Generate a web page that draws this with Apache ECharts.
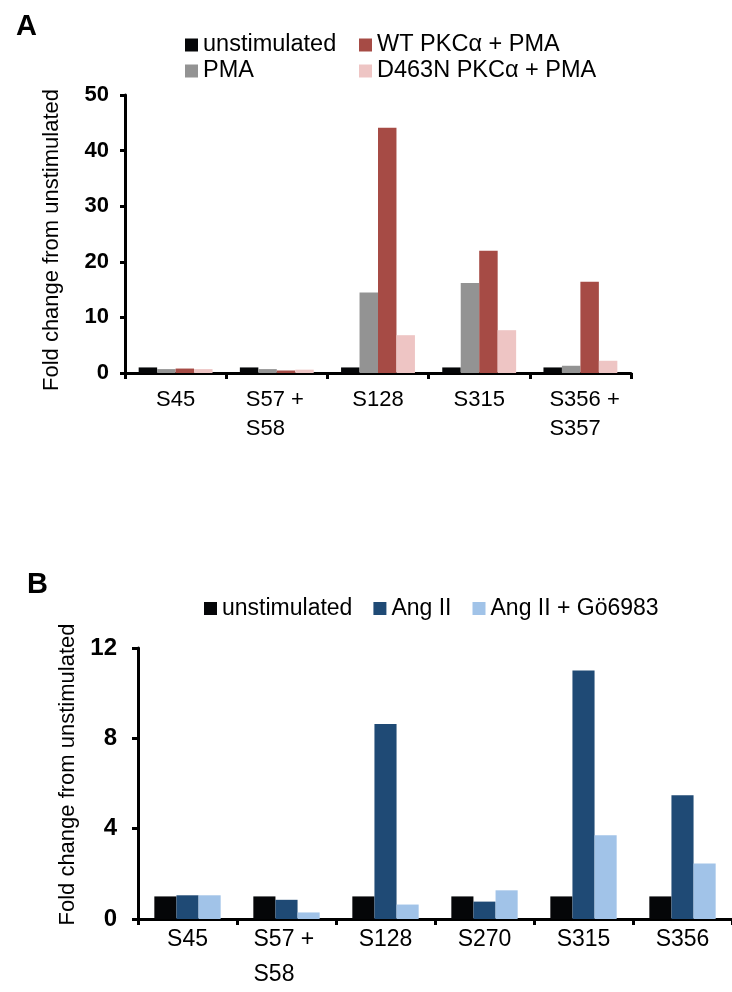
<!DOCTYPE html>
<html>
<head>
<meta charset="utf-8">
<script src="https://cdn.jsdelivr.net/npm/echarts@6/dist/echarts.min.js"></script>
<style>
html,body{margin:0;padding:0;background:#fff;}
#c{width:732px;height:992px;}
</style>
</head>
<body>
<div id="c"></div>
<script>
// ---- Panel A data ----
var catsA = ['S45', 'S57 +\nS58', 'S128', 'S315', 'S356 +\nS357'];
var namesA = ['unstimulated', 'PMA', 'WT PKC\u03b1 + PMA', 'D463N PKC\u03b1 + PMA'];
var unstimA = [1.0, 1.0, 1.0, 1.0, 1.0];
var pmaA = [0.7, 0.7, 14.5, 16.2, 1.3];
var wtA = [0.8, 0.45, 44.1, 22.0, 16.4];
var d463nA = [0.7, 0.6, 6.8, 7.7, 2.2];
var ticksA = [0, 10, 20, 30, 40, 50];

// ---- Panel B data ----
var catsB = ['S45', 'S57 +\nS58', 'S128', 'S270', 'S315', 'S356'];
var namesB = ['unstimulated', 'Ang II', 'Ang II + G\u00f66983'];
var unstimB = [1.0, 1.0, 1.0, 1.0, 1.0, 1.0];
var angB = [1.05, 0.85, 8.63, 0.77, 11.0, 5.48];
var goB = [1.05, 0.29, 0.64, 1.27, 3.71, 2.46];
var ticksB = [0, 4, 8, 12];

var colorsA = ['#050608', '#939393', '#a64b45', '#eec5c4'];
var colorsB = ['#050608', '#1f4a75', '#a1c3e8'];

var FONT = '"Liberation Sans", Arial, Helvetica, sans-serif';

function catFormatter() {
  return function (v) {
    var lines = v.split('\n');
    if (lines.length > 1) {
      return lines.map(function (l) { return '{l|' + l + '}'; }).join('\n');
    }
    return v;
  };
}

var chart = echarts.init(document.getElementById('c'), null, {renderer: 'canvas'});

function legendItems(names, colors) {
  return names.map(function (n, i) {
    return {name: n, icon: 'rect', itemStyle: {color: colors[i]}};
  });
}

var axisLineStyle = {color: '#000', width: 3};

var option = {
  backgroundColor: '#fff',
  animation: false,
  textStyle: {fontFamily: FONT},
  title: [
    {text: 'A', left: 11, top: 7, textStyle: {fontFamily: FONT, fontSize: 29, fontWeight: 'bold', color: '#000'}},
    {text: 'B', left: 22, top: 565, textStyle: {fontFamily: FONT, fontSize: 29, fontWeight: 'bold', color: '#000'}}
  ],
  legend: [
    {
      data: legendItems([namesA[0], namesA[1]], [colorsA[0], colorsA[1]]),
      orient: 'vertical', left: 185, top: 33, itemWidth: 13, itemHeight: 13, itemGap: 2,
      padding: 0, selectedMode: false,
      textStyle: {fontFamily: FONT, fontSize: 23.5, color: '#000', lineHeight: 24}
    },
    {
      data: legendItems([namesA[2], namesA[3]], [colorsA[2], colorsA[3]]),
      orient: 'vertical', left: 359, top: 33, itemWidth: 13, itemHeight: 13, itemGap: 2,
      padding: 0, selectedMode: false,
      textStyle: {fontFamily: FONT, fontSize: 23.5, color: '#000', lineHeight: 24}
    },
    {
      data: legendItems(namesB, colorsB),
      orient: 'horizontal', left: 204, top: 597, itemWidth: 13, itemHeight: 13, itemGap: 21,
      padding: 0, selectedMode: false,
      textStyle: {fontFamily: FONT, fontSize: 23, color: '#000', lineHeight: 23}
    }
  ],
  grid: [
    {left: 125, right: 101, top: 95, bottom: 619, containLabel: false},
    {left: 138, right: -3, top: 648, bottom: 69, containLabel: false}
  ],
  xAxis: [
    {
      type: 'category', gridIndex: 0, data: catsA,
      axisLine: {lineStyle: axisLineStyle},
      axisTick: {show: true, alignWithLabel: false, length: 6, lineStyle: {color: '#000', width: 3}},
      axisLabel: {
        interval: 0, margin: 12, fontFamily: FONT, fontSize: 22, color: '#000', lineHeight: 29,
        formatter: catFormatter(),
        rich: {l: {width: 62, align: 'left', fontFamily: FONT, fontSize: 22, lineHeight: 29, color: '#000'}}
      },
      splitLine: {show: false}
    },
    {
      type: 'category', gridIndex: 1, data: catsB,
      axisLine: {lineStyle: axisLineStyle},
      axisTick: {show: true, alignWithLabel: false, length: 6, lineStyle: {color: '#000', width: 3}},
      axisLabel: {
        interval: 0, margin: 3, fontFamily: FONT, fontSize: 23, color: '#000', lineHeight: 35,
        formatter: catFormatter(),
        rich: {l: {width: 66, align: 'left', fontFamily: FONT, fontSize: 23, lineHeight: 35, color: '#000'}}
      },
      splitLine: {show: false}
    }
  ],
  yAxis: [
    {
      type: 'value', gridIndex: 0, min: ticksA[0], max: ticksA[ticksA.length - 1], interval: ticksA[1] - ticksA[0],
      name: 'Fold change from unstimulated', nameLocation: 'middle', nameRotate: 90, nameGap: 62,
      nameTextStyle: {fontFamily: FONT, fontSize: 22, color: '#000', padding: [0, 12, 0, 0]},
      axisLine: {show: true, lineStyle: axisLineStyle},
      axisTick: {show: true, length: 5, lineStyle: {color: '#000', width: 3}},
      axisLabel: {margin: 16, fontFamily: FONT, fontSize: 22, fontWeight: 'bold', color: '#000'},
      splitLine: {show: false}
    },
    {
      type: 'value', gridIndex: 1, min: ticksB[0], max: ticksB[ticksB.length - 1], interval: ticksB[1] - ticksB[0],
      name: 'Fold change from unstimulated', nameLocation: 'middle', nameRotate: 90, nameGap: 59,
      nameTextStyle: {fontFamily: FONT, fontSize: 22, color: '#000', padding: [0, 0, 0, 18]},
      axisLine: {show: true, lineStyle: axisLineStyle},
      axisTick: {show: true, length: 6, lineStyle: {color: '#000', width: 3}},
      axisLabel: {margin: 21, fontFamily: FONT, fontSize: 24, fontWeight: 'bold', color: '#000'},
      splitLine: {show: false}
    }
  ],
  series: [
    {name: namesA[0], type: 'bar', xAxisIndex: 0, yAxisIndex: 0, data: unstimA, itemStyle: {color: colorsA[0]}, barGap: '0%', barCategoryGap: '27%'},
    {name: namesA[1], type: 'bar', xAxisIndex: 0, yAxisIndex: 0, data: pmaA, itemStyle: {color: colorsA[1]}, barGap: '0%', barCategoryGap: '27%'},
    {name: namesA[2], type: 'bar', xAxisIndex: 0, yAxisIndex: 0, data: wtA, itemStyle: {color: colorsA[2]}, barGap: '0%', barCategoryGap: '27%'},
    {name: namesA[3], type: 'bar', xAxisIndex: 0, yAxisIndex: 0, data: d463nA, itemStyle: {color: colorsA[3]}, barGap: '0%', barCategoryGap: '27%'},
    {name: namesB[0], type: 'bar', xAxisIndex: 1, yAxisIndex: 1, data: unstimB, itemStyle: {color: colorsB[0]}, barGap: '0%', barCategoryGap: '33%'},
    {name: namesB[1], type: 'bar', xAxisIndex: 1, yAxisIndex: 1, data: angB, itemStyle: {color: colorsB[1]}, barGap: '0%', barCategoryGap: '33%'},
    {name: namesB[2], type: 'bar', xAxisIndex: 1, yAxisIndex: 1, data: goB, itemStyle: {color: colorsB[2]}, barGap: '0%', barCategoryGap: '33%'}
  ]
};
chart.setOption(option);
</script>
</body>
</html>
